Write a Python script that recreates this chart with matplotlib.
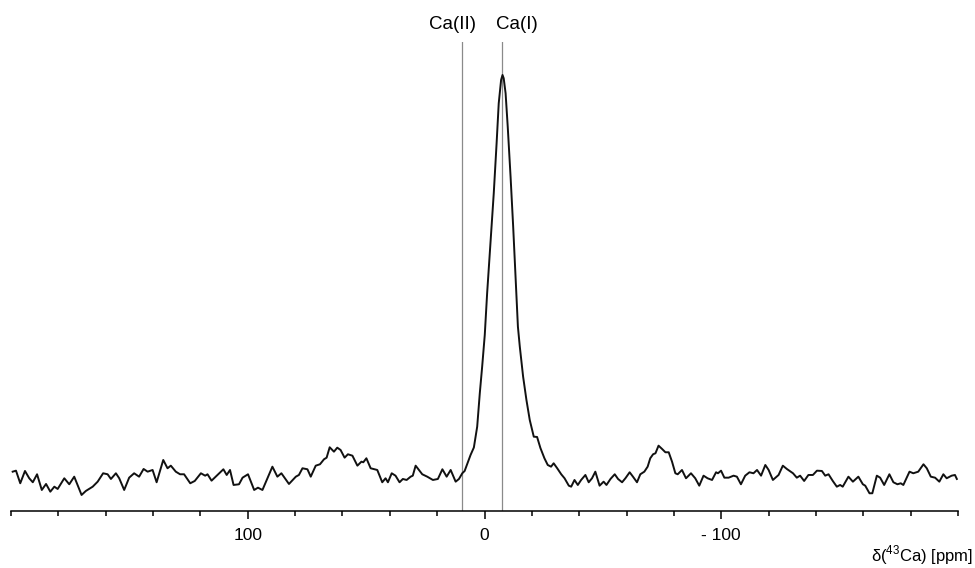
import matplotlib
matplotlib.use("Agg")
import matplotlib.pyplot as plt
from matplotlib.ticker import FixedLocator, FixedFormatter, MultipleLocator

plt.rcParams['font.family'] = ['Liberation Sans', 'DejaVu Sans']
plt.rcParams['mathtext.fontset'] = 'custom'
plt.rcParams['mathtext.rm'] = 'Liberation Sans'

# chemical shift (ppm) and intensity (arb. units)
shift = [199.3, 197.9, 196.1, 194.1, 192.3, 190.8, 189.0, 187.0, 185.2, 183.4,
         181.7, 180.3, 177.5, 175.4, 173.3, 170.2, 168.4, 165.5, 163.4, 161.1,
         159.2, 157.8, 155.7, 154.3, 152.2, 150.1, 148.0, 145.9, 144.0, 142.3,
         140.2, 138.5, 135.7, 133.9, 132.5, 130.4, 128.6, 126.9, 124.3, 122.4,
         119.8, 118.0, 117.0, 115.3, 112.8, 110.3, 108.9, 107.5, 106.0, 103.7,
         102.2, 99.9, 97.3, 95.7, 93.8, 89.6, 87.5, 85.8, 82.6, 79.7,
         78.4, 76.9, 74.8, 73.4, 71.3, 69.5, 67.8, 66.7, 65.4, 63.6,
         62.2, 60.8, 59.1, 57.7, 55.8, 53.7, 52.0, 51.2, 49.9, 48.1,
         45.3, 43.2, 41.8, 40.8, 39.2, 37.6, 35.9, 34.5, 32.9, 31.2,
         30.3, 29.1, 27.7, 26.3, 24.2, 21.8, 19.7, 17.8, 16.0, 14.3,
         12.2, 10.8, 9.4, 8.4, 5.9, 4.5, 3.1, 2.0, 1.0, -0.1,
         -1.1, -2.5, -3.9, -5.1, -6.0, -7.0, -7.6, -8.1, -8.9, -9.8,
         -11.0, -12.1, -13.1, -14.1, -14.9, -16.3, -17.7, -19.1, -20.8, -22.2,
         -23.6, -25.3, -26.7, -28.1, -29.2, -30.7, -32.4, -33.8, -35.6, -36.6,
         -38.0, -39.4, -40.8, -42.6, -44.0, -45.4, -46.8, -48.6, -50.3, -51.5,
         -53.2, -55.0, -56.4, -58.1, -59.5, -61.3, -62.7, -64.4, -65.8, -67.5,
         -68.9, -70.0, -71.2, -72.2, -73.5, -75.0, -76.4, -77.8, -79.2, -80.6,
         -81.6, -83.4, -85.1, -87.2, -89.0, -90.7, -92.5, -94.2, -96.1, -97.8,
         -98.6, -99.9, -101.3, -103.1, -105.2, -106.6, -108.3, -110.1, -111.9, -113.6,
         -115.1, -116.8, -118.6, -120.0, -121.8, -124.2, -126.0, -127.7, -130.3, -131.9,
         -133.3, -135.0, -136.8, -138.7, -140.4, -142.5, -143.9, -145.3, -147.1, -148.8,
         -150.2, -151.3, -153.7, -155.6, -157.9, -159.8, -160.8, -162.6, -163.8, -165.7,
         -167.1, -168.8, -171.0, -172.7, -174.4, -175.8, -176.9, -179.5, -181.1, -183.2,
         -185.4, -186.8, -188.5, -190.3, -192.1, -193.8, -195.2, -197.3, -198.7, -199.5]

intensity = [8.3, 9.3, -3.3, 9.0, 1.7, -2.3, 5.7, -10.0, -4.0, -11.7,
             -6.7, -9.0, 1.7, -4.3, 3.3, -15.0, -11.0, -6.7, -1.7, 6.7,
             5.7, 1.0, 6.7, 1.7, -10.0, 2.3, 6.7, 3.3, 11.0, 8.3,
             10.0, -2.3, 20.0, 11.7, 14.3, 8.3, 5.7, 5.7, -3.3, -1.0,
             6.7, 4.3, 5.7, -0.7, 5.0, 10.7, 5.0, 10.0, -5.0, -4.3,
             2.3, 5.7, -10.0, -7.7, -10.0, 13.3, 3.3, 6.7, -4.0, 3.3,
             5.0, 11.7, 10.7, 3.3, 14.3, 15.7, 20.7, 22.3, 32.7, 28.3,
             32.3, 30.0, 22.3, 25.7, 24.3, 14.3, 18.3, 17.7, 21.7, 11.7,
             10.0, -2.3, 1.7, -2.3, 6.7, 4.3, -2.3, 1.0, 0.0, 3.3,
             4.3, 14.3, 10.0, 5.7, 3.3, 0.0, 1.0, 10.7, 3.3, 10.0,
             -1.7, 1.0, 6.7, 9.0, 25.0, 32.5, 53.3, 86.7, 113.3, 145.0,
             186.7, 236.7, 286.7, 336.7, 376.7, 400.0, 405.0, 401.7, 386.7, 353.3,
             303.3, 253.3, 203.3, 153.3, 133.3, 103.3, 80.0, 60.0, 43.3, 43.0,
             32.0, 21.7, 15.0, 13.3, 16.7, 11.7, 5.7, 1.7, -5.7, -6.7,
             0.0, -5.0, 0.0, 5.0, -2.3, 1.7, 8.3, -5.7, -1.7, -5.0,
             1.0, 5.7, 1.0, -2.3, 1.7, 7.7, 3.3, -2.3, 5.7, 8.3,
             13.3, 21.7, 25.7, 26.7, 34.3, 31.0, 27.7, 27.7, 18.3, 6.7,
             5.7, 10.0, 1.7, 6.7, 1.7, -5.7, 4.3, 1.7, 0.0, 7.7,
             6.7, 9.3, 2.3, 2.3, 4.3, 3.3, -4.3, 4.3, 7.7, 6.7,
             10.0, 4.3, 15.0, 10.0, 0.0, 5.0, 14.3, 11.0, 6.7, 2.3,
             4.3, -1.0, 5.0, 5.0, 9.3, 9.0, 4.3, 5.7, -1.0, -6.7,
             -5.0, -6.7, 3.3, -1.7, 3.3, -4.3, -5.7, -13.3, -13.3, 4.3,
             2.3, -5.0, 5.7, -2.3, -4.3, -3.3, -5.0, 8.3, 6.7, 8.3,
             15.7, 11.7, 3.3, 2.3, -1.7, 5.7, 1.7, 4.3, 5.0, 1.0]

site_labels = ['Ca(II)', 'Ca(I)']
site_shift = [9.5, -7.4]
label_shift = [13.6, -13.5]

major_ticks = [100, 0, -100]
major_labels = ['100', '0', '- 100']

fig = plt.figure(figsize=(9.75, 5.68), dpi=100)
ax = fig.add_axes([0.0113, 0.1004, 0.9713, 0.8257])

ax.plot(shift, intensity, color='#111111', lw=1.4, solid_joinstyle='round')

for s, lab, ls in zip(site_shift, site_labels, label_shift):
    ax.axvline(s, color='#8a8a8a', lw=0.9, zorder=0)
    ax.text(ls, 1.038, lab, transform=ax.get_xaxis_transform(),
            ha='center', va='center', fontsize=13.5)

ax.set_xlim(200, -200)
ax.set_ylim(-31, 438)

for side in ['left', 'right', 'top']:
    ax.spines[side].set_visible(False)
ax.spines['bottom'].set_linewidth(1.1)
ax.yaxis.set_visible(False)

ax.xaxis.set_major_locator(FixedLocator(major_ticks))
ax.xaxis.set_major_formatter(FixedFormatter(major_labels))
ax.xaxis.set_minor_locator(MultipleLocator(20))
ax.tick_params(axis='x', which='major', length=6, width=1.1, pad=6, labelsize=12.5)
ax.tick_params(axis='x', which='minor', length=3.5, width=1.1)

fig.text(973 / 975, 1 - 561 / 568, r'δ($^{\mathregular{43}}$Ca) [ppm]',
         ha='right', va='baseline', fontsize=12)

fig.savefig('out.png', dpi=100)
